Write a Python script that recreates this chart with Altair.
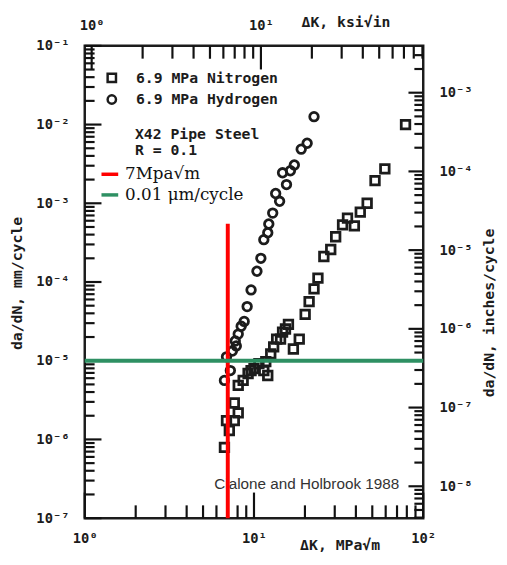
import altair as alt
import pandas as pd

# ---------------- data ----------------
SERIES = ["6.9 MPa Nitrogen", "6.9 MPa Hydrogen"]

N2_DK = [6.69, 7.15, 6.88, 7.65, 8.07, 7.65, 8.07, 8.63, 9.23, 9.61, 10.0, 10.69, 11.74,
         11.43, 12.06, 12.56, 13.07, 13.61, 14.35, 14.75, 15.35, 15.98, 17.09, 18.51,
         20.06, 21.17, 22.63, 23.87, 25.87, 28.41, 30.38, 33.37, 35.68, 39.18, 42.46,
         46.63, 51.90, 59.32, 78.60]
N2_DADN = [7.94e-7, 1.30e-6, 1.73e-6, 1.73e-6, 2.18e-6, 2.90e-6, 4.87e-6, 5.62e-6, 6.88e-6,
           7.50e-6, 7.94e-6, 9.17e-6, 9.72e-6, 7.50e-6, 6.49e-6, 1.22e-5, 1.50e-5, 1.88e-5,
           1.88e-5, 2.31e-5, 2.53e-5, 2.90e-5, 1.41e-5, 1.88e-5, 3.87e-5, 5.62e-5, 8.18e-5,
           1.12e-4, 2.11e-4, 2.59e-4, 3.76e-4, 5.31e-4, 6.49e-4, 5.16e-4, 7.72e-4, 1.0e-3,
           1.94e-3, 2.74e-3, 1.0e-2]

H2_DK = [6.69, 7.25, 6.88, 7.45, 7.86, 7.75, 8.07, 8.40, 8.75, 9.11, 9.61, 10.41, 10.98,
         11.43, 12.06, 12.23, 12.90, 14.17, 13.43, 15.56, 14.75, 16.41, 17.31, 19.01,
         20.61, 22.63]
H2_DADN = [5.62e-6, 7.50e-6, 1.12e-5, 1.33e-5, 1.54e-5, 1.78e-5, 2.18e-5, 2.74e-5, 3.16e-5,
           4.87e-5, 7.94e-5, 1.37e-4, 2.0e-4, 3.45e-4, 4.22e-4, 5.46e-4, 7.50e-4, 1.06e-3,
           1.33e-3, 1.73e-3, 2.44e-3, 2.59e-3, 3.07e-3, 4.87e-3, 5.79e-3, 1.26e-2]

LINE_LABELS = ["7Mpa√m", "0.01 μm/cycle"]
LINE_COLORS = ["#ff0000", "#2e9063"]
LINE_DK = [7, 1]
LINE_DK2 = [7, 100]
LINE_DADN = [1e-7, 1e-5]
LINE_DADN2 = [5.5e-4, 1e-5]

NOTES = ["X42 Pipe Steel", "R = 0.1"]
NOTES_DK = [1.98, 1.98]
NOTES_DADN = [7.5e-3, 4.73e-3]

SOURCE = ["Cialone and Holbrook 1988"]
SOURCE_DK = [20.5]
SOURCE_DADN = [2.74e-7]

X_DOMAIN = [1, 100]
Y_DOMAIN = [1e-7, 1e-1]
MPA_PER_KSI = 1.0988
MM_PER_IN = 25.4
KSI_DOMAIN = [X_DOMAIN[0] / MPA_PER_KSI, X_DOMAIN[1] / MPA_PER_KSI]
IN_DOMAIN = [Y_DOMAIN[0] / MM_PER_IN, Y_DOMAIN[1] / MM_PER_IN]

X_MAJOR = [1.0, 10.0, 100.0]
X_MINOR = [m * 10.0 ** e for e in (0, 1) for m in range(2, 10)]
Y_MAJOR = [10.0 ** e for e in range(-7, 0)]
Y_MINOR = [m * 10.0 ** e for e in range(-7, -1) for m in range(2, 10)]
KSI_MAJOR = [1.0, 10.0]
KSI_MINOR = [m * 10.0 ** e for e in (0, 1) for m in range(2, 10)]
IN_MAJOR = [10.0 ** e for e in range(-8, -2)]
IN_MINOR = [v for v in (m * 10.0 ** e for e in range(-9, -2) for m in range(2, 10))
            if IN_DOMAIN[0] <= v <= IN_DOMAIN[1]]

# ---------------- styling helpers ----------------
W, H = 344, 480
X_DECADE_PX = W / 2.0   # pixels per decade on the x scale
Y_DECADE_PX = H / 6.0   # pixels per decade on the y scale
TICK_W = 2.2            # tick thickness, px
INK = "#1c1c1c"
MONO = "DejaVu Sans Mono"
EXP = "round(log(datum.value)/LN10)"
LABEL_EXPR = (f"'10' + ({EXP} < 0 ? '⁻' : '') + "
              f"substring('⁰¹²³⁴⁵⁶⁷⁸⁹', abs({EXP}), abs({EXP}) + 1)")


def label_axis(orient, values, pad, title, tx, ty, angle=0):
    return alt.Axis(
        orient=orient, values=values, ticks=False,
        labelExpr=LABEL_EXPR, labelPadding=pad, labelFlush=False, labelOverlap=False,
        labelFont=MONO, labelFontWeight="bold", labelFontSize=14, labelColor=INK,
        domain=False, grid=False,
        title=title, titleX=tx, titleY=ty, titleAngle=angle,
        titleAlign="center", titleBaseline="middle",
        titleFont=MONO, titleFontWeight="bold", titleFontSize=15, titleColor=INK,
    )


def log_scale(domain):
    return alt.Scale(type="log", domain=domain, nice=False)


xs = log_scale(X_DOMAIN)
ys = log_scale(Y_DOMAIN)


# inward tick marks drawn as thin rectangles, running from the frame edge inward
def x_tick_table(values, edge, length_px, sign):
    f = 10 ** (sign * length_px / Y_DECADE_PX)
    g = 10 ** (TICK_W / 2 / X_DECADE_PX)
    n = len(values)
    return pd.DataFrame({"dk": [v / g for v in values], "dk2": [v * g for v in values],
                         "dadn": [edge] * n, "dadn2": [edge * f] * n})


def y_tick_table(values, edge, length_px, sign):
    f = 10 ** (sign * length_px / X_DECADE_PX)
    g = 10 ** (TICK_W / 2 / Y_DECADE_PX)
    n = len(values)
    return pd.DataFrame({"dadn": [v / g for v in values], "dadn2": [v * g for v in values],
                         "dk": [edge] * n, "dk2": [edge * f] * n})


# ---------------- tables ----------------
df_pts = pd.concat([
    pd.DataFrame({"dk": N2_DK, "dadn": N2_DADN, "series": SERIES[0]}),
    pd.DataFrame({"dk": H2_DK, "dadn": H2_DADN, "series": SERIES[1]}),
])
df_ticks = pd.concat([
    x_tick_table(X_MAJOR, Y_DOMAIN[0], 26, 1),
    x_tick_table(X_MINOR, Y_DOMAIN[0], 13, 1),
    x_tick_table([v * MPA_PER_KSI for v in KSI_MAJOR], Y_DOMAIN[1], 24, -1),
    x_tick_table([v * MPA_PER_KSI for v in KSI_MINOR], Y_DOMAIN[1], 13, -1),
    y_tick_table(Y_MAJOR, X_DOMAIN[0], 17, 1),
    y_tick_table(Y_MINOR, X_DOMAIN[0], 10, 1),
    y_tick_table([v * MM_PER_IN for v in IN_MAJOR], X_DOMAIN[1], 15, -1),
    y_tick_table([v * MM_PER_IN for v in IN_MINOR], X_DOMAIN[1], 9, -1),
], ignore_index=True)
df_lines = pd.DataFrame({"label": LINE_LABELS, "dk": LINE_DK, "dk2": LINE_DK2,
                         "dadn": LINE_DADN, "dadn2": LINE_DADN2})
df_notes = pd.DataFrame({"text": NOTES, "dk": NOTES_DK, "dadn": NOTES_DADN})
df_src = pd.DataFrame({"text": SOURCE, "dk": SOURCE_DK, "dadn": SOURCE_DADN})
df_alt_dom = pd.DataFrame({"a": KSI_DOMAIN, "b": IN_DOMAIN})

# ---------------- layers ----------------
src = alt.Chart(df_src).mark_text(
    font="Liberation Sans", fontSize=15.5, color="#333333", align="center", baseline="middle"
).encode(
    x=alt.X("dk:Q", scale=xs, axis=label_axis("bottom", X_MAJOR, 14, "ΔK, MPa√m", 259, 27)),
    y=alt.Y("dadn:Q", scale=ys, axis=label_axis("left", Y_MAJOR, 16, "da/dN, mm/cycle", -69, 241, 270)),
    text="text:N",
)

ticks = alt.Chart(df_ticks).mark_rect(color="#111111", opacity=1, strokeWidth=0).encode(
    x=alt.X("dk:Q", scale=xs), x2="dk2:Q",
    y=alt.Y("dadn:Q", scale=ys), y2="dadn2:Q",
)

points = alt.Chart(df_pts).mark_point(
    filled=False, strokeWidth=2.8, size=76, opacity=1, color=INK
).encode(
    x=alt.X("dk:Q", scale=xs),
    y=alt.Y("dadn:Q", scale=ys),
    shape=alt.Shape("series:N", scale=alt.Scale(domain=SERIES, range=["square", "circle"]),
                    legend=alt.Legend(orient="none", legendX=20, legendY=25, title=None,
                                      labelFont=MONO, labelFontWeight="bold", labelFontSize=15,
                                      labelColor=INK, labelOffset=17, rowPadding=3,
                                      symbolSize=72, symbolStrokeWidth=2.5,
                                      symbolStrokeColor=INK, symbolFillColor="white")),
)

notes = alt.Chart(df_notes).mark_text(
    font=MONO, fontWeight="bold", fontSize=15, color=INK, align="left", baseline="middle"
).encode(x=alt.X("dk:Q", scale=xs), y=alt.Y("dadn:Q", scale=ys), text="text:N")

rules = alt.Chart(df_lines).mark_rule(strokeWidth=4).encode(
    x=alt.X("dk:Q", scale=xs), x2="dk2:Q",
    y=alt.Y("dadn:Q", scale=ys), y2="dadn2:Q",
    color=alt.Color("label:N", scale=alt.Scale(domain=LINE_LABELS, range=LINE_COLORS),
                    legend=alt.Legend(orient="none", legendX=15, legendY=120, title=None,
                                      symbolType="stroke", symbolSize=289,
                                      symbolStrokeWidth=3.5, labelFont="DejaVu Serif",
                                      labelFontSize=17, labelColor="#111111",
                                      labelOffset=5, rowPadding=2)),
)

main = alt.layer(src, ticks, points, notes, rules)

alt_labels = alt.Chart(df_alt_dom).mark_point(opacity=0).encode(
    x=alt.X("a:Q", scale=log_scale(KSI_DOMAIN),
            axis=label_axis("top", KSI_MAJOR, 14, "ΔK, ksi√in", 265, -25)),
    y=alt.Y("b:Q", scale=log_scale(IN_DOMAIN),
            axis=label_axis("right", IN_MAJOR, 16, "da/dN, inches/cycle", 66, 271, 270)),
)

chart = alt.layer(main, alt_labels).resolve_scale(
    x="independent", y="independent"
).properties(
    width=W, height=H,
    autosize=alt.AutoSizeParams(type="none"),
    padding={"left": 78, "top": 34, "right": 77, "bottom": 34},
).configure_view(stroke=INK, strokeWidth=2.5)

chart.save("out.html", embed_options={"renderer": "svg", "actions": False})
